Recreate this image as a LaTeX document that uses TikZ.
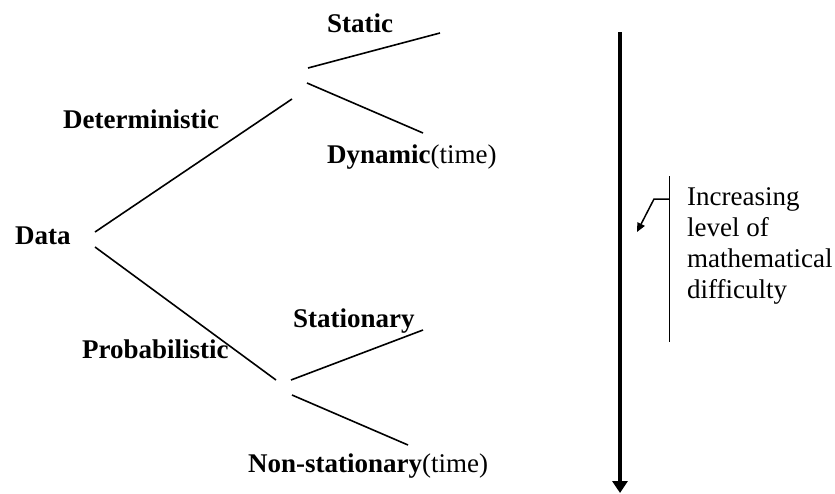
\documentclass[tikz,border=0pt]{standalone}
\usepackage{fontspec}
\setmainfont{Liberation Serif}
\usetikzlibrary{arrows.meta}
\begin{document}
\begin{tikzpicture}[x=1pt,y=-1pt,
  lbl/.style={anchor=base west,inner sep=0pt,font=\fontsize{27}{31}\selectfont\bfseries},
  branch/.style={line width=1.6pt},
  every node/.style={inner sep=0pt}]
\useasboundingbox (0,0) rectangle (835,493);
% labels
\node[lbl] (data) at (15,244) {Data};
\node[lbl] (det) at (63,128) {Deterministic};
\node[lbl] (static) at (327,32) {Static};
\node[lbl] (dyn) at (327,163) {Dynamic\mdseries(time)};
\node[lbl] (stat) at (293,327) {Stationary};
\node[lbl] (prob) at (82,358) {Probabilistic};
\node[lbl] (nonstat) at (248,472) {Non-stationary\mdseries(time)};
% branch end points
\coordinate (d0) at (95,232); \coordinate (d1) at (292,99);
\coordinate (s0) at (308,68); \coordinate (s1) at (440,33);
\coordinate (y0) at (307,83); \coordinate (y1) at (423,133);
\coordinate (p0) at (95,247); \coordinate (p1) at (276,380);
\coordinate (t0) at (291,380); \coordinate (t1) at (423,330);
\coordinate (n0) at (292,395); \coordinate (n1) at (408,445);
\draw[branch] (d0) -- (d1);
\draw[branch] (s0) -- (s1);
\draw[branch] (y0) -- (y1);
\draw[branch] (p0) -- (p1);
\draw[branch] (t0) -- (t1);
\draw[branch] (n0) -- (n1);
% main arrow
\coordinate (a0) at (620,32);
\coordinate (a1) at (620,493);
\draw[line width=4pt,-{Triangle[width=15pt,length=12pt]}] (a0) -- (a1);
% callout
\coordinate (c0) at (669.5,176);
\coordinate (c1) at (669.5,342);
\coordinate (cl) at (669.5,199);
\coordinate (cb) at (654,199);
\coordinate (ct) at (637,232);
\draw[line width=1.2pt] (c0) -- (c1);
\draw[line width=1.5pt,-{Triangle[width=8pt,length=9pt]}] (cl) -- (cb) -- (ct);
\node[anchor=base west,align=left,font=\fontsize{27}{31}\selectfont] (note) at (687,298)
  {Increasing\\level of\\mathematical\\difficulty};
\end{tikzpicture}
\end{document}
